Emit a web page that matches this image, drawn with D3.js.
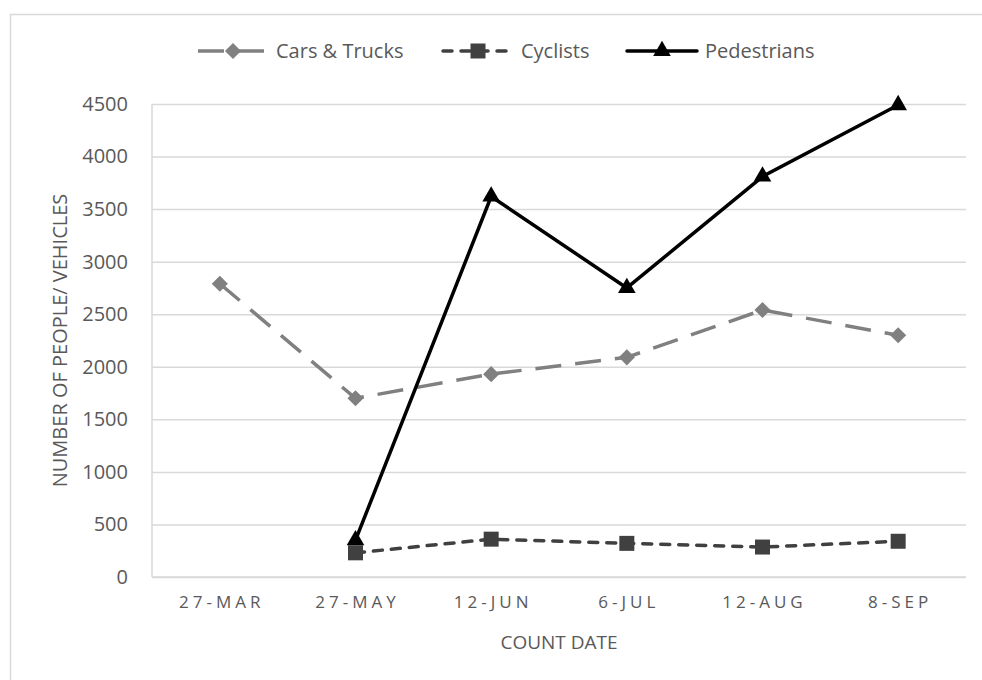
<!DOCTYPE html>
<html><head><meta charset="utf-8">
<script src="https://cdn.jsdelivr.net/npm/d3@7"></script>
<style>body{margin:0;background:#fff}svg{display:block}</style>
</head><body>
<svg id="chart" width="982" height="680"></svg>
<script>
const categories = ["27-MAR","27-MAY","12-JUN","6-JUL","12-AUG","8-SEP"];
const carsTrucks = [2790, 1700, 1930, 2090, 2540, 2300];
const cyclists = [null, 230, 360, 320, 285, 340];
const pedestrians = [null, 350, 3620, 2750, 3810, 4490];
const yTicks = [0,500,1000,1500,2000,2500,3000,3500,4000,4500];
const seriesNames = ["Cars & Trucks","Cyclists","Pedestrians"];

const svg = d3.select("#chart");
const m = {left:152, right:966, top:104, bottom:577};
const font = "'Open Sans', sans-serif";

// outer border
svg.append("rect").attr("x",10.5).attr("y",14.5).attr("width",990).attr("height",700)
  .attr("fill","none").attr("stroke","#d9d9d9").attr("stroke-width",1.5);

const x = d3.scaleBand().domain(categories).range([m.left,m.right]);
const y = d3.scaleLinear().domain([0,4500]).range([m.bottom,m.top]);

// gridlines
const grid = svg.append("g").attr("transform",`translate(${m.left},0)`)
  .call(d3.axisLeft(y).tickValues(yTicks).tickSize(-(m.right-m.left)).tickFormat(""));
grid.select(".domain").remove();
grid.selectAll("line").attr("stroke","#d9d9d9").attr("stroke-width",1.5);

// y tick labels
const yAx = svg.append("g").attr("transform",`translate(${m.left},0)`)
  .call(d3.axisLeft(y).tickValues(yTicks).tickSize(0).tickPadding(24).tickFormat(d3.format("d")));
yAx.select(".domain").remove();
yAx.selectAll("text").attr("font-family",font).attr("font-size",20).attr("fill","#595959");

// x axis line and left axis line
svg.append("line").attr("x1",m.left).attr("x2",m.right).attr("y1",m.bottom).attr("y2",m.bottom)
  .attr("stroke","#d9d9d9").attr("stroke-width",1.5);
svg.append("line").attr("x1",m.left).attr("x2",m.left).attr("y1",m.top).attr("y2",m.bottom)
  .attr("stroke","#d9d9d9").attr("stroke-width",1.5);

const xAx = svg.append("g").attr("transform",`translate(0,${m.bottom})`)
  .call(d3.axisBottom(x).tickSize(0).tickPadding(19));
xAx.select(".domain").remove();
xAx.selectAll("text").attr("font-family",font).attr("font-size",17).attr("fill","#595959")
  .attr("letter-spacing","4px").attr("dx","2px");

// axis titles
svg.append("text").attr("x",(m.left+m.right)/2).attr("y",649).attr("text-anchor","middle")
  .attr("font-family",font).attr("font-size",19).attr("fill","#595959").text("COUNT DATE");
svg.append("text").attr("transform",`translate(67,${(m.top+m.bottom)/2}) rotate(-90)`)
  .attr("text-anchor","middle").attr("font-family",font).attr("font-size",20).attr("fill","#595959")
  .text("NUMBER OF PEOPLE/ VEHICLES");

const diamond = d3.symbolSquare;
const styles = [
  {data:carsTrucks, color:"#808080", dash:"26,14", cap:"butt", marker:diamond, msize:130, rot:45},
  {data:cyclists, color:"#404040", dash:"9,9", cap:"round", marker:d3.symbolSquare, msize:225, rot:0},
  {data:pedestrians, color:"#000000", dash:null, cap:"round", marker:d3.symbolTriangle, msize:135, rot:0}
];
const cx = c => x(c) + x.bandwidth()/2;

styles.forEach(s => {
  const pts = categories.map((c,i)=>({c, v:s.data[i]})).filter(d=>d.v!=null);
  const line = d3.line().x(d=>cx(d.c)).y(d=>y(d.v));
  svg.append("path").datum(pts).attr("d",line).attr("fill","none")
    .attr("stroke",s.color).attr("stroke-width",3.5).attr("stroke-dasharray",s.dash)
    .attr("stroke-linecap",s.cap).attr("stroke-linejoin","round");
  svg.selectAll(null).data(pts).enter().append("path")
    .attr("d",d3.symbol().type(s.marker).size(s.msize))
    .attr("transform",d=>`translate(${cx(d.c)},${y(d.v)}) rotate(${s.rot})`)
    .attr("fill",s.color);
});

// legend
const legX = [198, 443, 627];
const leg = svg.append("g");
styles.forEach((s,i) => {
  const x0 = legX[i];
  leg.append("line").attr("x1",x0).attr("x2",x0+70).attr("y1",51).attr("y2",51)
    .attr("stroke",s.color).attr("stroke-width",3.5).attr("stroke-dasharray",s.dash)
    .attr("stroke-linecap",s.cap);
  leg.append("path").attr("d",d3.symbol().type(s.marker).size(s.msize))
    .attr("transform",`translate(${x0+35},51) rotate(${s.rot})`).attr("fill",s.color);
  leg.append("text").attr("x",x0+78).attr("y",51).attr("dy","0.35em")
    .attr("font-family",font).attr("font-size",20).attr("fill","#595959").text(seriesNames[i]);
});
</script>
</body></html>
